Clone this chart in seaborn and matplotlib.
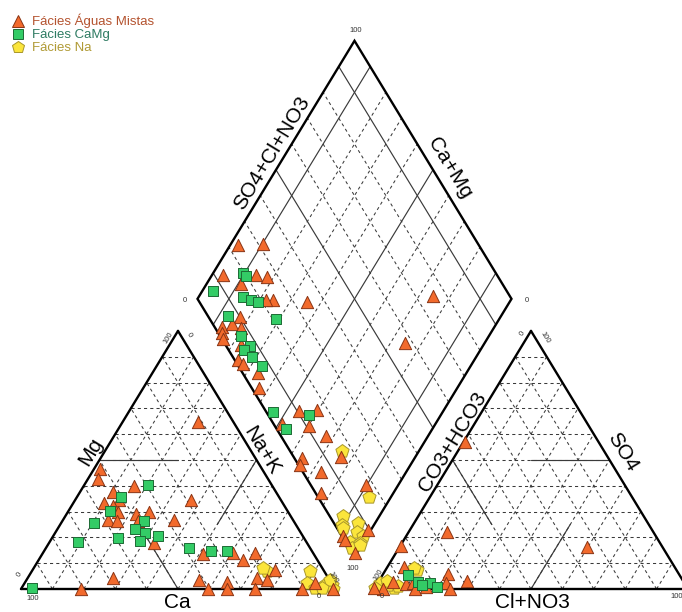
import numpy as np
import pandas as pd
import matplotlib
matplotlib.use("Agg")
import matplotlib.pyplot as plt
import seaborn as sns
from matplotlib.lines import Line2D

sns.set_theme(style="white")
plt.rcParams['font.family'] = ['Liberation Sans', 'DejaVu Sans']

FACIES = ["Fácies Águas Mistas", "Fácies CaMg", "Fácies Na"]

# ---------------- data (percent of meq) ----------------
# Cation triangle: Mg %, Na+K %  (Ca = 100 - Mg - Na+K)
cat_mistas_mg = [64.9, 46.6, 42.7, 40.1, 37.5, 34.3, 33.4, 32.3, 34.3, 29.8, 26.8, 26.5, 29.1, 29.8,
                 26.5, 26.9, 17.7, 13.6, 14.0, 11.3, 13.8, 4.3, 3.6, 2.6, 4.3, 3.6, 7.4, 0.0, 0.0,
                 0.0, 0.0, 0.0, 2.2, 0.0]
cat_mistas_na = [24.0, 1.8, 3.2, 15.8, 10.7, 14.2, 9.8, 13.0, 36.9, 15.9, 14.2, 17.3, 22.0, 26.0,
                 23.9, 35.2, 33.6, 51.2, 60.6, 64.9, 67.7, 27.1, 54.8, 64.2, 73.0, 76.5, 77.1, 19.2,
                 59.6, 65.5, 74.6, 89.5, 92.5, 99.5]
cat_camg_mg = [40.4, 35.6, 30.1, 25.6, 26.3, 23.3, 21.7, 20.7, 18.5, 19.8, 18.1, 15.9, 14.9, 14.9, 0.5]
cat_camg_na = [20.2, 14.0, 13.3, 10.5, 26.0, 24.7, 28.6, 33.2, 28.7, 20.9, 9.2, 45.7, 53.1, 58.1, 3.3]
cat_na_mg = [7.1, 8.0, 7.1, 2.2, 0.3, 1.2, 1.6, 0.0, 3.5, 0.3]
cat_na_na = [74.7, 73.0, 88.5, 89.9, 93.6, 95.7, 98.1, 99.5, 96.7, 95.7]

# Anion triangle: SO4 %, Cl+NO3 %  (CO3+HCO3 = 100 - SO4 - Cl)
an_mistas_so4 = [57.1, 22.2, 16.7, 16.2, 8.4, 5.8, 3.2, 0.0, 1.9, 2.4, 0.0, 0.7, 2.4, 0.0, 2.8, 0.3]
an_mistas_cl = [0.5, 12.1, 0.3, 59.6, 5.4, 20.6, 28.1, 3.0, 9.4, 11.3, 13.1, 16.3, 21.7, 24.2, 4.7, 0.0]
an_camg_so4 = [5.4, 2.8, 2.4, 0.7, 1.5]
an_camg_cl = [8.2, 12.7, 16.6, 19.7, 14.5]
an_na_so4 = [2.2, 0.3, 7.4, 1.6, 0.3, 1.2, 8.0, 3.0]
an_na_cl = [0.8, 6.1, 9.9, 3.8, 0.2, 7.0, 8.6, 2.5]

# Diamond: SO4+Cl+NO3 %, Ca+Mg %
dia_mistas_an = [23.5, 31.4, 12.9, 23.3, 26.2, 16.8, 24.0, 21.5, 34.1, 9.9, 2.5, 6.2, 8.2, 1.1, 0.5,
                 5.0, 1.0, 2.0, 5.0, 2.4, 10.6, 16.5, 10.9, 2.6, 14.2, 2.3, 0.5, 5.9, 1.7, 15.0, 17.6,
                 0.5, 9.6, 1.0, 0.3, 75.7, 57.6]
dia_mistas_cat = [97.5, 89.9, 96.4, 86.0, 82.2, 89.0, 75.7, 77.9, 64.5, 82.9, 86.7, 84.0, 80.5, 85.6,
                  84.0, 77.2, 75.5, 72.8, 66.3, 63.2, 45.8, 40.5, 39.7, 49.0, 32.5, 36.0, 35.0, 27.2,
                  23.0, 23.6, 10.3, 7.6, 0.8, 0.5, 6.3, 25.5, 25.4]
dia_camg_an = [19.7, 19.8, 6.5, 14.7, 16.9, 18.7, 21.1, 6.4, 6.7, 7.6, 5.0, 6.0, 7.5, 2.3, 13.1, 2.9]
dia_camg_cat = [90.5, 88.9, 96.4, 85.9, 82.8, 80.0, 71.1, 86.8, 79.0, 74.2, 75.2, 71.5, 66.6, 54.0,
                41.9, 46.7]
dia_na_an = [16.5, 16.3, 4.3, 2.1, 7.8, 5.6, 6.8, 1.5, 4.4, 0.8, 4.0, 2.0]
dia_na_cat = [24.7, 6.9, 11.4, 10.3, 5.3, 4.2, 1.2, 4.4, 0.9, 2.6, 0.5, 9.1]

# ---------------- geometry ----------------
H = np.sqrt(3) / 2
GAP = 0.1242
X_AN = 1 + GAP


def tri_xy(top, right, x0=0.0):
    top = np.asarray(top, float) / 100
    right = np.asarray(right, float) / 100
    return x0 + right + top / 2, top * H


def dia_xy(a, c):
    a = np.asarray(a, float) / 100
    c = np.asarray(c, float) / 100
    bx, by = 1 + GAP / 2, GAP * H
    return bx + 0.5 * (a - c), by + H * (a + c)


rows = []
def add(panel, fac, xy):
    x, y = xy
    for xi, yi in zip(x, y):
        rows.append(dict(panel=panel, facies=fac, x=xi, y=yi))

add("cat", FACIES[0], tri_xy(cat_mistas_mg, cat_mistas_na))
add("cat", FACIES[1], tri_xy(cat_camg_mg, cat_camg_na))
add("cat", FACIES[2], tri_xy(cat_na_mg, cat_na_na))
add("an", FACIES[0], tri_xy(an_mistas_so4, an_mistas_cl, X_AN))
add("an", FACIES[1], tri_xy(an_camg_so4, an_camg_cl, X_AN))
add("an", FACIES[2], tri_xy(an_na_so4, an_na_cl, X_AN))
add("dia", FACIES[0], dia_xy(dia_mistas_an, dia_mistas_cat))
add("dia", FACIES[1], dia_xy(dia_camg_an, dia_camg_cat))
add("dia", FACIES[2], dia_xy(dia_na_an, dia_na_cat))
df = pd.DataFrame(rows)

# ---------------- figure ----------------
W, Hpx = 682, 612
fig = plt.figure(figsize=(W / 100, Hpx / 100), dpi=100)
ax = fig.add_axes([0, 0, 1, 1])


def set_lims():
    ax.set_xlim(-21 / 314, (W - 21) / 314)
    ax.set_ylim(-(Hpx - 589) / 298, 589 / 298)
    ax.axis("off")


set_lims()


def px(xp, yp):
    return (xp - 21) / 314, (589 - yp) / 298


GRID_KW = dict(color="#3a3a3a", lw=0.75, linestyle=(0, (3, 3)), zorder=1)
SOLID_KW = dict(color="#3a3a3a", lw=0.85, linestyle="-", zorder=1.5)
EDGE_KW = dict(color="black", lw=1.7, zorder=2, solid_joinstyle="miter")


def tri_line(p, q, x0, **kw):
    (t1, r1), (t2, r2) = p, q
    x, y = tri_xy([t1, t2], [r1, r2], x0)
    ax.plot(x, y, **kw)


for x0 in (0.0, X_AN):
    for k in range(10, 100, 10):
        tri_line((k, 0), (k, 100 - k), x0, **GRID_KW)      # constant top
        tri_line((0, k), (100 - k, k), x0, **GRID_KW)      # constant right
        tri_line((0, 100 - k), (100 - k, 0), x0, **GRID_KW)  # constant left
    tri_line((0, 0), (0, 100), x0, **EDGE_KW)
    tri_line((0, 100), (100, 0), x0, **EDGE_KW)
    tri_line((100, 0), (0, 0), x0, **EDGE_KW)

# classification half-lines
tri_line((50, 0), (50, 25), 0.0, **SOLID_KW)
tri_line((0, 50), (25, 25), 0.0, **SOLID_KW)
tri_line((50, 50), (25, 50), 0.0, **SOLID_KW)
tri_line((50, 50), (50, 25), X_AN, **SOLID_KW)
tri_line((50, 0), (25, 25), X_AN, **SOLID_KW)
tri_line((0, 50), (25, 50), X_AN, **SOLID_KW)

# diamond grid
for k in range(10, 100, 10):
    kw = SOLID_KW if k in (10, 50, 90) else GRID_KW
    x, y = dia_xy([k, k], [0, 100]); ax.plot(x, y, **kw)
    x, y = dia_xy([0, 100], [k, k]); ax.plot(x, y, **kw)
x, y = dia_xy([0, 100, 100, 0, 0], [0, 0, 100, 100, 0])
ax.plot(x, y, **EDGE_KW)

# ---------------- points ----------------
STY = {
    FACIES[0]: dict(marker="^", s=78, color="#F26A2C", edgecolor="#8A3414"),
    FACIES[1]: dict(marker="s", s=52, color="#33CC66", edgecolor="#1D6B35"),
    FACIES[2]: dict(marker="p", s=100, color="#FBE53B", edgecolor="#A8962A"),
}
for fac in [FACIES[2], FACIES[0], FACIES[1]]:
    sub = df[df.facies == fac]
    st = STY[fac]
    sns.scatterplot(data=sub, x="x", y="y", ax=ax, marker=st["marker"], s=st["s"],
                    color=st["color"], edgecolor=st["edgecolor"], linewidth=0.7,
                    legend=False, zorder=5)
ax.set_xlabel(""); ax.set_ylabel("")
set_lims()

# ---------------- labels ----------------
ANG = np.degrees(np.arctan2(258, 157))
LAB = dict(fontsize=15, color="black", ha="center", va="center", rotation_mode="anchor", zorder=6)
for txt, (xp, yp), rot in [
    ("Mg", (91, 452), ANG), ("Na+K", (262, 451), -ANG), ("Ca", (177, 603), 0),
    ("SO4+Cl+NO3", (272, 153), ANG), ("Ca+Mg", (450, 168), -ANG),
    ("CO3+HCO3", (453, 442), ANG), ("SO4", (623, 452), -ANG), ("Cl+NO3", (532, 603), 0),
]:
    ax.text(*px(xp, yp), txt, rotation=rot, **LAB)

TK = dict(fontsize=5.5, color="#333333", ha="center", va="center", rotation_mode="anchor", zorder=6)
for txt, (xp, yp), rot in [
    ("100", (168, 338), ANG), ("0", (189, 335), -ANG), ("0", (20, 574), ANG),
    ("100", (33, 598), 0), ("100", (333, 578), -ANG), ("0", (319, 597), 0),
    ("0", (523, 333), ANG), ("100", (545, 338), -ANG), ("100", (378, 575), ANG),
    ("0", (382, 597), 0), ("100", (677, 597), 0),
    ("100", (356, 31), 0), ("0", (185, 300), 0), ("0", (527, 301), 0), ("100", (353, 568), 0),
]:
    ax.text(*px(xp, yp), txt, rotation=rot, **TK)

# ---------------- legend ----------------
handles = [Line2D([], [], linestyle="none", marker=STY[f]["marker"],
                  markersize=np.sqrt(STY[f]["s"]) * 0.9, markerfacecolor=STY[f]["color"],
                  markeredgecolor=STY[f]["edgecolor"], markeredgewidth=0.7) for f in FACIES]
lx, ly = px(12, 14)
ax.legend(handles, FACIES, loc="upper left", bbox_to_anchor=(lx, ly),
          bbox_transform=ax.transData, frameon=False, fontsize=9.5,
          labelcolor=["#B4532F", "#2E7B62", "#B09A35"], handlelength=0.9,
          handletextpad=0.6, labelspacing=0.05, borderaxespad=0, borderpad=0)

fig.savefig("out.png", dpi=100)
